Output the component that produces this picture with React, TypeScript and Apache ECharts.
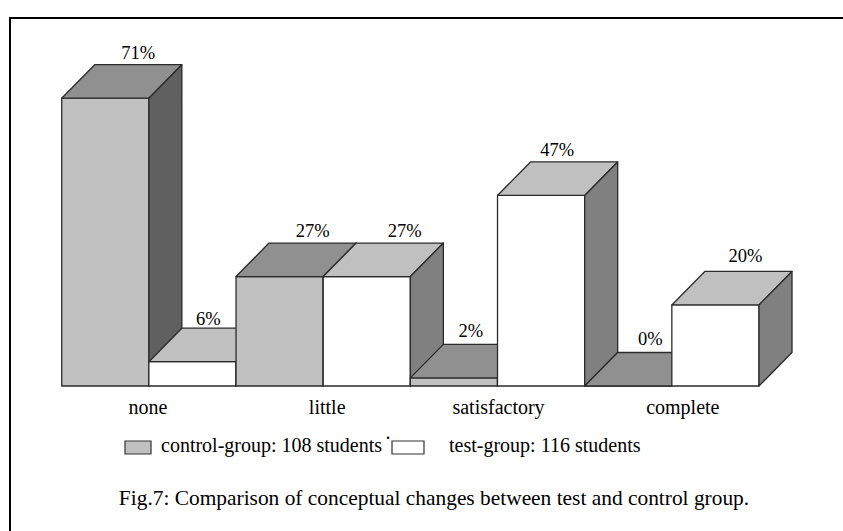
import React, { useEffect, useRef } from "react";
import * as echarts from "echarts";

// ---- data ----
const categories = ["none", "little", "satisfactory", "complete"];
const controlValues = [71, 27, 2, 0];
const testValues = [6, 27, 47, 20];
const seriesNames = ["control-group: 108 students", "test-group: 116 students"];
const captionText = "Fig.7: Comparison of conceptual changes between test and control group.";

// ---- styling constants (not data) ----
const FONT = "Liberation Serif";
const DEPTH_X = 33;
const DEPTH_Y = 33.5;
// label nudges per bar (order: control/test for each category)
const labelDx = [33, 16, 33, 38, 17, 16, 22, 30];
const labelDy = [-12, -9, -12, -12, -13, -12, -14, -15];
const categoryShift = [-1, 4, 1, 11];
const palette = {
  control: { front: "#c0c0c0", top: "#909090", side: "#606060" },
  test: { front: "#ffffff", top: "#c0c0c0", side: "#808080" },
};

function txt(text: string, x: number, y: number, size: number, align = "left") {
  return {
    type: "text",
    silent: true,
    style: {
      text,
      x,
      y,
      align,
      verticalAlign: "middle",
      fontFamily: FONT,
      fontSize: size,
      fill: "#000",
    },
  };
}

export default function App() {
  const ref = useRef<HTMLDivElement>(null);

  useEffect(() => {
    if (!ref.current) return;
    const chart = echarts.init(ref.current, undefined, { renderer: "svg" });

    const items: number[][] = [];
    categories.forEach((_, i) => {
      items.push([i, controlValues[i], 0]);
      items.push([i, testValues[i], 1]);
    });

    const rich: Record<string, any> = {};
    categoryShift.forEach((s, i) => {
      rich["c" + i] = {
        fontFamily: FONT,
        fontSize: 20,
        color: "#000",
        padding: s >= 0 ? [0, 0, 0, 2 * s] : [0, -2 * s, 0, 0],
      };
    });

    const option: any = {
      animation: false,
      backgroundColor: "#ffffff",
      grid: { left: 61.7, right: 84, top: 61.7, bottom: 145 },
      xAxis: {
        type: "category",
        data: categories,
        axisLine: { show: false },
        axisTick: { show: false },
        splitLine: { show: false },
        axisLabel: {
          interval: 0,
          margin: 21,
          verticalAlign: "middle",
          fontFamily: FONT,
          fontSize: 20,
          color: "#000",
          formatter: (v: string) => `{c${categories.indexOf(v)}|${v}}`,
          rich,
        },
      },
      yAxis: {
        type: "value",
        min: 0,
        max: 80,
        show: false,
        splitLine: { show: false },
      },
      series: [
        {
          type: "custom",
          clip: false,
          data: items,
          renderItem: (params: any, api: any) => {
            const cat = api.value(0);
            const v = api.value(1);
            const g = api.value(2);
            const base = api.coord([cat, 0]);
            const top = api.coord([cat, v]);
            const bandW = api.size([1, 0])[0];
            const barW = bandW / 2;
            const x0 = base[0] - barW + g * barW;
            const x1 = x0 + barW;
            const y0 = base[1];
            const y1 = top[1];
            const c = g === 0 ? palette.control : palette.test;
            const stroke = { stroke: "#2b2b2b", lineWidth: 1.3, lineJoin: "round" };
            const i = params.dataIndex;
            return {
              type: "group",
              children: [
                {
                  type: "polygon",
                  shape: { points: [[x0, y1], [x1, y1], [x1, y0], [x0, y0]] },
                  style: { fill: c.front, ...stroke },
                },
                {
                  type: "polygon",
                  shape: {
                    points: [
                      [x0, y1],
                      [x0 + DEPTH_X, y1 - DEPTH_Y],
                      [x1 + DEPTH_X, y1 - DEPTH_Y],
                      [x1, y1],
                    ],
                  },
                  style: { fill: c.top, ...stroke },
                },
                {
                  type: "polygon",
                  shape: {
                    points: [
                      [x1, y1],
                      [x1 + DEPTH_X, y1 - DEPTH_Y],
                      [x1 + DEPTH_X, y0 - DEPTH_Y],
                      [x1, y0],
                    ],
                  },
                  style: { fill: c.side, ...stroke },
                },
                {
                  type: "text",
                  style: {
                    text: `${v}%`,
                    x: x0 + barW / 2 + labelDx[i],
                    y: y1 - DEPTH_Y + labelDy[i],
                    align: "center",
                    verticalAlign: "middle",
                    fontFamily: FONT,
                    fontSize: 18.5,
                    fill: "#000",
                  },
                },
              ],
            };
          },
        },
      ],
      graphic: [
        {
          type: "rect",
          silent: true,
          shape: { x: 10, y: 18, width: 900, height: 600 },
          style: { fill: "none", stroke: "#000", lineWidth: 2 },
        },
        {
          type: "rect",
          shape: { x: 125, y: 441, width: 26, height: 13 },
          style: { fill: palette.control.front, stroke: "#333", lineWidth: 1.2 },
        },
        txt(seriesNames[0], 161, 445, 20),
        txt(".", 388, 432, 20, "center"),
        {
          type: "rect",
          shape: { x: 392, y: 441, width: 32, height: 13 },
          style: { fill: palette.test.front, stroke: "#333", lineWidth: 1.2 },
        },
        txt(seriesNames[1], 449, 445, 20),
        txt(captionText, 434, 498, 21.4, "center"),
      ],
    };

    chart.setOption(option);
    return () => chart.dispose();
  }, []);

  return (
    <div
      ref={ref}
      style={{ position: "absolute", left: 0, top: 0, width: 843, height: 531 }}
    />
  );
}
